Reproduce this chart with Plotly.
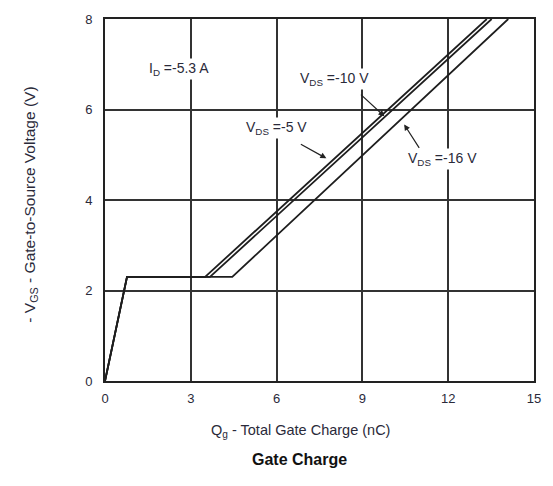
import plotly.graph_objects as go

# Data
vgs = [0, 2.3, 2.3, 8.0]
qg_vds5 = [0, 0.77, 3.5, 13.35]
qg_vds10 = [0, 0.77, 3.67, 13.52]
qg_vds16 = [0, 0.77, 4.45, 14.1]
x_ticks = [0, 3, 6, 9, 12, 15]
y_ticks = [0, 2, 4, 6, 8]

FONT = "Liberation Sans"
TXT = "#2a2a3a"

# pixel helpers for label placement (plot area 105..535 x, 17..381 y)
def dx(px):
    return (px - 105) / (430 / 15)

def dy(py):
    return (381 - py) / (364 / 8)

fig = go.Figure()
for q, name in [(qg_vds5, "-5 V"), (qg_vds10, "-10 V"), (qg_vds16, "-16 V")]:
    fig.add_trace(go.Scatter(x=q, y=vgs, mode="lines", name=name,
                             line=dict(color="#1e1e1e", width=1.8),
                             showlegend=False, hoverinfo="skip"))

axis_common = dict(showgrid=True, gridcolor="#333333", gridwidth=1.5,
                   showline=True, linecolor="#222222", linewidth=2, mirror=True,
                   zeroline=False, ticks="", tickfont=dict(family=FONT, size=13, color=TXT))

fig.update_xaxes(range=[0, 15], tickvals=x_ticks, ticklabelstandoff=4, **axis_common)
fig.update_yaxes(range=[0, 8], tickvals=y_ticks, ticklabelstandoff=8, **axis_common)

lab = dict(family=FONT, size=14, color=TXT)
ann = []
ann.append(dict(x=dx(179), y=dy(67), xref="x", yref="y", text="I<sub>D</sub> =-5.3 A",
                showarrow=False, bgcolor="white", font=lab))
# arrows
arr = dict(text="", showarrow=True, arrowhead=2, arrowsize=1, arrowwidth=1.2,
           arrowcolor="#222", xref="x", yref="y")
ann.append(dict(x=9.77, y=5.85, ax=-25, ay=-23, **arr))
ann.append(dict(x=7.74, y=4.92, ax=-27, ay=-15, **arr))
ann.append(dict(x=10.46, y=5.67, ax=16, ay=25, **arr))
ann.append(dict(x=dx(335), y=dy(77), xref="x", yref="y", bgcolor="white",
                text="V<sub>DS</sub> =-10 V", showarrow=False, font=lab))
ann.append(dict(x=dx(277), y=dy(127), xref="x", yref="y", bgcolor="white",
                text="V<sub>DS</sub> =-5 V", showarrow=False, font=lab))
ann.append(dict(x=dx(443), y=dy(158), xref="x", yref="y", bgcolor="white",
                text="V<sub>DS</sub> =-16 V", showarrow=False, font=lab))
# axis titles
ann.append(dict(x=(301 - 105) / 430, y=(381 - 442) / 364, xref="paper", yref="paper",
                text="Q<sub>g</sub> - Total Gate Charge (nC)", showarrow=False,
                font=dict(family=FONT, size=14.5, color=TXT)))
ann.append(dict(x=(300 - 105) / 430, y=(381 - 470) / 364, xref="paper", yref="paper",
                text="<b>Gate Charge</b>", showarrow=False,
                font=dict(family=FONT, size=16, color="#111")))
ann.append(dict(x=(19 - 105) / 430, y=(381 - 204) / 364, xref="paper", yref="paper",
                text="- V<sub>GS</sub> - Gate-to-Source Voltage (V)", showarrow=False, textangle=-90,
                font=dict(family=FONT, size=15.5, color=TXT)))

fig.update_layout(width=553, height=486, plot_bgcolor="white", paper_bgcolor="white",
                  margin=dict(l=105, r=18, t=17, b=105), annotations=ann)

fig.write_html("out.html")
